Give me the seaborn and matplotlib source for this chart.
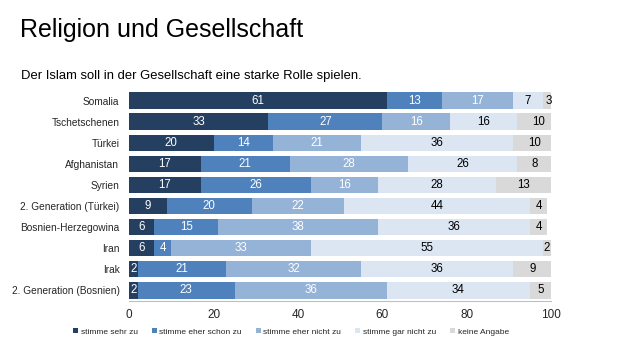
import matplotlib
matplotlib.use("Agg")
import matplotlib.pyplot as plt
import seaborn as sns
import numpy as np
import pandas as pd

categories = ["Somalia", "Tschetschenen", "Türkei", "Afghanistan", "Syrien",
              "2. Generation (Türkei)", "Bosnien-Herzegowina", "Iran", "Irak",
              "2. Generation (Bosnien)"]
series_names = ["stimme sehr zu", "stimme eher schon zu", "stimme eher nicht zu",
                "stimme gar nicht zu", "keine Angabe"]
sehr_zu = [61, 33, 20, 17, 17, 9, 6, 6, 2, 2]
eher_schon = [13, 27, 14, 21, 26, 20, 15, 4, 21, 23]
eher_nicht = [17, 16, 21, 28, 16, 22, 38, 33, 32, 36]
gar_nicht = [7, 16, 36, 26, 28, 44, 36, 55, 36, 34]
keine_angabe = [3, 10, 10, 8, 13, 4, 4, 2, 9, 5]
xticks = [0, 20, 40, 60, 80, 100]

colors = ["#243F60", "#4F81BD", "#95B3D7", "#DCE6F2", "#D9D9D9"]
text_colors = ["white", "white", "white", "black", "black"]

sns.set_theme(style="white")
plt.rcParams['font.family'] = ['Liberation Sans', 'DejaVu Sans']

series = [sehr_zu, eher_schon, eher_nicht, gar_nicht, keine_angabe]
vals = np.array(series, dtype=float)
cum = np.cumsum(vals, axis=0)

fig = plt.figure(figsize=(6.3, 3.56), dpi=100)
ax = fig.add_axes([0.205, 0.155, 0.67, 0.592])

# draw cumulative bars from largest to smallest so they stack visually
for i in range(len(series) - 1, -1, -1):
    df = pd.DataFrame({"cat": categories, "val": cum[i]})
    sns.barplot(data=df, x="val", y="cat", orient="h", color=colors[i],
                width=0.78, ax=ax, saturation=1, linewidth=0, label=series_names[i])

for i in range(len(series)):
    start = cum[i] - vals[i]
    for j, cat in enumerate(categories):
        ax.text(start[j] + vals[i][j] / 2, j, f"{int(vals[i][j])}",
                ha="center", va="center", fontsize=8.3, color=text_colors[i])

ax.set_xlim(0, 100)
ax.set_ylim(9.5, -0.5)
ax.set_xticks(xticks)
ax.set_xticklabels([str(t) for t in xticks], fontsize=8.5)
ax.tick_params(axis="y", labelsize=7.3, length=0, pad=7)
ax.tick_params(axis="x", length=3, color="#BFBFBF", pad=3)
ax.set_xlabel("")
ax.set_ylabel("")
for s in ["top", "right", "left"]:
    ax.spines[s].set_visible(False)
ax.spines["bottom"].set_color("#BFBFBF")
ax.spines["bottom"].set_linewidth(0.8)

handles, labels = ax.get_legend_handles_labels()
order = {n: k for k, n in enumerate(series_names)}
hl = sorted(zip(handles, labels), key=lambda t: order[t[1]])
leg = fig.legend([h for h, _ in hl], [l for _, l in hl], loc="center",
                 bbox_to_anchor=(0.462, 0.068), ncol=5, frameon=False,
                 fontsize=6.0, handlelength=0.6, handleheight=0.6,
                 handletextpad=0.3, columnspacing=1.7)
if ax.get_legend():
    ax.get_legend().remove()

fig.text(0.032, 0.915, "Religion und Gesellschaft", fontsize=18, color="black",
         va="center", ha="left")
fig.text(0.033, 0.786, "Der Islam soll in der Gesellschaft eine starke Rolle spielen.",
         fontsize=9.35, color="black", va="center", ha="left")

fig.savefig("out.png", dpi=100)
